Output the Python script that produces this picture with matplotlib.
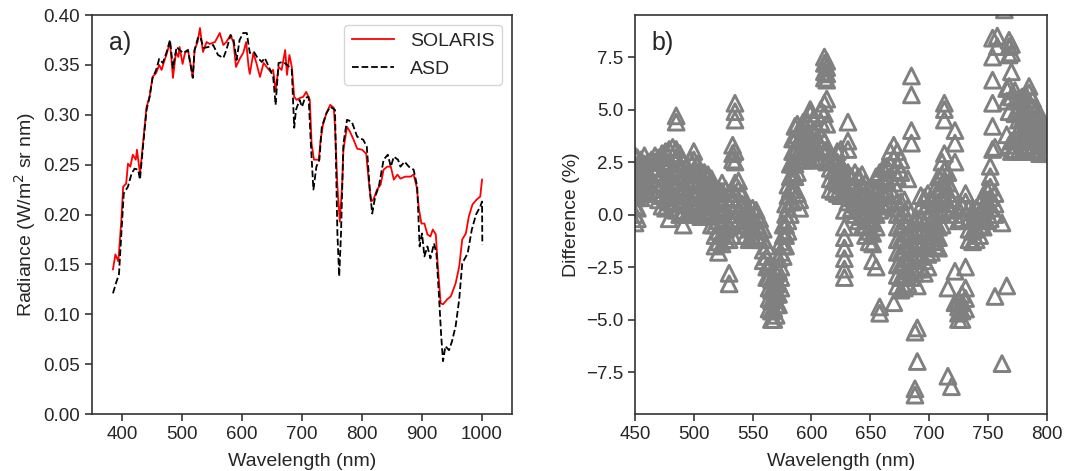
import matplotlib
matplotlib.use("Agg")
import matplotlib.pyplot as plt

plt.rcParams["font.family"] = ["Liberation Sans", "DejaVu Sans"]
plt.rcParams["text.color"] = "0.15"
plt.rcParams["axes.labelcolor"] = "0.15"
plt.rcParams["xtick.color"] = "0.15"
plt.rcParams["ytick.color"] = "0.15"
plt.rcParams["axes.edgecolor"] = "0.2"

# panel a) radiance spectra
solaris_wl = [385, 389, 394, 399, 402, 407, 410, 414, 418, 423, 425, 430, 435, 441, 446,
              451, 457, 462, 466, 470, 474, 480, 485, 490, 494, 496, 501, 505, 510, 518,
              521, 526, 530, 535, 541, 546, 555, 563, 569, 574, 581, 586, 590, 597, 602,
              607, 611, 613, 619, 624, 630, 636, 641, 648, 652, 656, 661, 666, 672, 675,
              679, 683, 687, 691, 697, 702, 707, 713, 716, 720, 728, 731, 735, 741, 747,
              753, 755, 759, 763, 767, 769, 775, 780, 786, 792, 800, 807, 811, 815, 819,
              825, 831, 836, 842, 848, 853, 859, 864, 872, 881, 886, 891, 895, 899, 904,
              909, 914, 918, 923, 926, 931, 935, 942, 948, 956, 962, 967, 973, 978, 984,
              991, 997, 1000]
solaris_rad = [0.145, 0.160, 0.153, 0.195, 0.228, 0.231, 0.251, 0.248, 0.260, 0.255, 0.265,
               0.241, 0.271, 0.308, 0.318, 0.338, 0.342, 0.350, 0.345, 0.353, 0.360, 0.373,
               0.337, 0.363, 0.358, 0.368, 0.351, 0.362, 0.365, 0.338, 0.365, 0.373, 0.387,
               0.363, 0.373, 0.371, 0.373, 0.382, 0.370, 0.373, 0.380, 0.372, 0.348, 0.357,
               0.362, 0.373, 0.348, 0.341, 0.362, 0.352, 0.338, 0.352, 0.348, 0.343, 0.345,
               0.324, 0.348, 0.345, 0.365, 0.340, 0.360, 0.348, 0.318, 0.315, 0.317, 0.318,
               0.323, 0.315, 0.271, 0.255, 0.255, 0.275, 0.290, 0.302, 0.310, 0.307, 0.288,
               0.228, 0.193, 0.231, 0.265, 0.288, 0.283, 0.275, 0.266, 0.265, 0.261, 0.235,
               0.213, 0.215, 0.225, 0.230, 0.245, 0.248, 0.248, 0.235, 0.240, 0.236, 0.238,
               0.238, 0.240, 0.228, 0.205, 0.191, 0.191, 0.180, 0.178, 0.185, 0.180, 0.151,
               0.111, 0.110, 0.115, 0.118, 0.131, 0.148, 0.175, 0.181, 0.198, 0.210, 0.215,
               0.218, 0.235]

asd_wl = [385, 391, 395, 399, 403, 410, 416, 421, 427, 430, 435, 441, 446, 451, 457,
          462, 468, 474, 480, 485, 491, 496, 502, 510, 518, 521, 527, 531, 536, 544,
          552, 560, 569, 574, 581, 586, 591, 596, 602, 608, 613, 620, 625, 633, 638,
          647, 652, 656, 661, 669, 679, 683, 687, 690, 696, 700, 705, 711, 715, 719,
          724, 729, 733, 741, 747, 755, 759, 762, 765, 769, 775, 783, 792, 802, 808,
          813, 817, 822, 828, 836, 843, 848, 853, 860, 864, 871, 878, 886, 892, 896,
          900, 904, 909, 914, 920, 924, 928, 932, 935, 939, 945, 950, 956, 962, 967,
          976, 983, 990, 997, 1000, 1000.5]
asd_rad = [0.121, 0.133, 0.140, 0.181, 0.221, 0.228, 0.241, 0.246, 0.245, 0.235, 0.268,
           0.305, 0.318, 0.337, 0.345, 0.356, 0.352, 0.362, 0.375, 0.347, 0.368, 0.365,
           0.362, 0.365, 0.337, 0.365, 0.378, 0.377, 0.367, 0.368, 0.370, 0.360, 0.357,
           0.365, 0.380, 0.375, 0.355, 0.375, 0.382, 0.382, 0.362, 0.363, 0.358, 0.353,
           0.357, 0.345, 0.338, 0.310, 0.352, 0.353, 0.348, 0.345, 0.287, 0.305, 0.315,
           0.308, 0.317, 0.318, 0.268, 0.225, 0.248, 0.255, 0.288, 0.302, 0.308, 0.305,
           0.181, 0.138, 0.181, 0.271, 0.295, 0.293, 0.278, 0.275, 0.268, 0.225, 0.201,
           0.218, 0.228, 0.255, 0.260, 0.248, 0.258, 0.255, 0.248, 0.253, 0.248, 0.245,
           0.228, 0.168, 0.181, 0.158, 0.168, 0.156, 0.171, 0.161, 0.121, 0.078, 0.053,
           0.068, 0.064, 0.073, 0.088, 0.115, 0.151, 0.161, 0.185, 0.200, 0.208, 0.213,
           0.170]

# panel b) percent difference, several values per wavelength
diff_wl = [450, 452, 455, 458, 461, 464, 467, 470, 473, 476, 479, 482, 485, 488, 491,
           494, 497, 500, 503, 506, 509, 512, 515, 518, 521, 524, 527, 530, 533, 535,
           538, 541, 544, 547, 550, 553, 556, 559, 562, 564, 566, 568, 570, 572, 574,
           576, 578, 580, 582, 584, 586, 588, 590, 593, 596, 599, 602, 605, 608, 611,
           613, 616, 619, 622, 625, 628, 631, 634, 637, 640, 643, 646, 649, 652, 655,
           658, 661, 664, 667, 670, 673, 676, 679, 682, 685, 688, 690, 693, 696, 699,
           702, 705, 708, 711, 713, 716, 719, 722, 725, 728, 731, 734, 737, 740, 743,
           746, 749, 752, 754, 756, 758, 762, 764, 766, 768, 770, 773, 776, 779, 782,
           785, 788, 791, 794, 797, 800]
diff_pct = [
    [-0.4, 0.0, 0.4, 0.9, 1.4, 1.9, 2.4, 2.8],
    [-0.2, 0.3, 0.8, 1.3, 1.8, 2.3, 2.7],
    [0.8, 1.2, 1.7, 2.2, 2.6],
    [1.0, 1.4, 1.9, 2.4, 2.8],
    [1.1, 1.5, 2.0, 2.5],
    [1.2, 1.7, 2.2, 2.6],
    [1.0, 1.5, 2.0, 2.5, 2.8],
    [0.7, 1.2, 1.7, 2.2, 2.7],
    [0.4, 0.9, 1.4, 1.9, 2.5, 2.9],
    [0.3, 0.8, 1.3, 1.8, 2.4, 3.0],
    [-0.2, 0.6, 1.2, 1.8, 2.4, 3.1],
    [0.5, 1.0, 1.6, 2.2, 2.8, 3.2],
    [0.2, 0.9, 1.5, 2.1, 2.7, 3.1, 4.4, 4.7],
    [0.0, 0.6, 1.2, 1.8, 2.4, 2.9],
    [-0.5, 0.1, 0.7, 1.3, 1.9, 2.5],
    [0.0, 0.5, 1.1, 1.7, 2.3],
    [0.2, 0.8, 1.4, 2.0, 2.6],
    [0.3, 0.9, 1.5, 2.1, 2.6, 3.0],
    [0.0, 0.5, 1.0, 1.5, 2.0, 2.4],
    [-0.1, 0.4, 0.9, 1.4, 1.9],
    [0.1, 0.6, 1.1, 1.6, 2.0],
    [0.2, 0.7, 1.2, 1.7, 1.9],
    [-0.5, 0.0, 0.5, 1.0, 1.5, 1.7],
    [-1.5, -1.0, -0.5, 0.0, 0.5, 1.0, 1.3],
    [-1.8, -1.3, -0.8, -0.3, 0.2, 0.7, 1.2],
    [-1.4, -0.9, -0.4, 0.1, 0.6, 1.1, 1.5],
    [-1.2, -0.7, -0.2, 0.3, 0.8, 1.2],
    [-3.3, -2.8, -1.2, -0.6, 0.0, 0.5, 1.0],
    [-1.0, -0.4, 0.2, 0.8, 2.6, 2.9, 3.3],
    [-0.2, 0.4, 1.0, 1.5, 2.5, 3.0, 4.5, 4.9, 5.3],
    [-0.3, 0.2, 0.7, 1.2, 1.6],
    [-0.5, 0.0, 0.5, 1.0],
    [-1.0, -0.5, 0.0, 0.4],
    [-1.2, -0.7, -0.2, 0.2],
    [-1.1, -0.6, -0.1, 0.3],
    [-1.0, -0.5, 0.0, 0.2],
    [-1.2, -0.7, -0.2],
    [-2.2, -1.7, -1.2, -0.7],
    [-3.0, -2.5, -2.0, -1.5],
    [-4.5, -4.0, -3.5, -3.0, -2.5],
    [-5.0, -4.6, -4.1, -3.6, -3.1],
    [-5.0, -4.5, -4.0, -3.5, -3.0],
    [-4.8, -4.3, -3.8, -3.3, -2.8],
    [-4.3, -3.8, -3.3, -2.7, -2.1],
    [-3.5, -3.0, -2.5, -1.8, -1.3],
    [-2.0, -1.5, -1.0, -0.5],
    [-1.5, -1.0, -0.5, 0.0, 0.5],
    [-0.8, -0.3, 0.3, 0.9, 1.4],
    [0.0, 0.6, 1.2, 1.8, 2.4],
    [0.6, 1.2, 1.8, 2.4, 3.0, 3.6],
    [1.2, 1.8, 2.4, 3.0, 3.6, 4.2],
    [1.0, 2.0, 2.6, 3.2, 3.8, 4.3],
    [0.3, 0.7, 2.6, 3.1, 3.6, 4.1],
    [2.6, 3.0, 3.5, 4.0, 4.4],
    [2.6, 3.0, 3.4, 3.9, 4.5],
    [2.6, 3.1, 3.6, 4.2, 4.8, 5.0],
    [2.6, 3.0, 3.5, 4.0, 4.6],
    [2.6, 3.1, 3.6, 4.1],
    [2.7, 3.2, 3.8, 4.4, 5.0],
    [3.0, 3.5, 4.8, 5.3, 6.5, 6.8, 7.2, 7.5],
    [2.5, 3.0, 4.3, 5.5, 6.4, 6.7, 7.0, 7.3],
    [1.2, 1.7, 2.2, 2.8],
    [1.1, 1.6, 2.1, 2.6],
    [1.0, 1.5, 2.0, 2.5, 3.0],
    [0.9, 1.4, 1.9, 2.4, 3.1],
    [-3.0, -2.6, -2.1, -1.6, -1.1, -0.6, 0.2, 0.9, 1.5],
    [0.6, 1.1, 1.6, 2.0, 3.1, 3.5, 4.4],
    [0.3, 0.8, 1.3, 1.8],
    [0.0, 0.5, 1.0, 1.5, 2.0],
    [-0.3, 0.2, 0.7, 1.2, 1.8],
    [-0.6, -0.1, 0.4, 0.9, 1.4, 1.9],
    [-1.0, -0.5, 0.0, 0.5, 1.0, 1.5],
    [-1.3, -0.8, -0.3, 0.2, 0.7, 1.2],
    [-2.2, -1.4, -0.9, -0.4, 0.1, 0.6, 1.2],
    [-2.5, -0.6, 0.0, 0.6, 1.2, 1.8],
    [-4.7, -4.4, 0.2, 0.8, 1.4, 2.0],
    [0.4, 1.0, 1.6, 2.2],
    [0.5, 1.1, 1.7, 2.3],
    [0.6, 1.2, 1.8, 2.4, 3.0],
    [-4.2, 0.3, 0.9, 1.5, 2.1, 2.7, 3.3],
    [-3.4, -2.9, -2.4, -1.8, -1.2, -0.6, 0.0, 0.6, 1.8, 2.4, 3.0],
    [-3.6, -3.0, -2.4, -1.8, -1.2, -0.6, 0.0, 0.6, 2.0, 2.6],
    [-3.5, -2.9, -2.3, -1.7, -1.1, -0.5, 0.1, 0.7],
    [-3.3, -2.7, -2.1, -1.5, -0.9, -0.3, 0.3, 1.7],
    [-3.0, -2.5, -2.0, -1.4, -0.8, 3.4, 4.0, 5.7, 6.6],
    [-8.6, -8.3, -5.6, -2.8, -2.2, -1.6, -1.0, -0.4],
    [-7.0, -5.4, -3.4, -2.6, -2.0, -1.4, -0.8, -0.2],
    [-2.6, -2.0, -1.4, -0.8, -0.2, 0.4, 0.9],
    [-2.8, -2.2, -1.6, -1.0, -0.4, 0.2, 0.8],
    [-2.5, -1.9, -1.3, -0.7, -0.1, 0.5, 1.0],
    [-1.8, -1.3, -0.8, -0.3, 0.2, 0.7],
    [-1.5, -1.0, -0.5, 0.0, 0.5, 1.2],
    [-1.6, -1.1, -0.6, 0.0, 0.6, 1.2, 1.8],
    [-0.5, 0.1, 0.7, 1.3, 1.9, 2.5],
    [0.3, 0.9, 1.5, 2.1, 2.9, 4.5, 5.0, 5.3],
    [-7.7, -3.5, 0.5, 1.0, 1.5, 2.0],
    [-8.2, 0.2, 0.7, 1.2],
    [-4.2, -2.7, 0.0, 2.5, 3.4, 4.0],
    [-5.0, -4.7, -4.4, -4.1, -0.3, 0.3],
    [-5.0, -4.6, -4.2, -3.8, -0.2, 0.4],
    [-4.5, -4.0, -3.5, -2.5, 0.6, 1.0],
    [-1.2, -0.7, -0.2, 0.3],
    [-1.3, -0.8, -0.3, 0.2],
    [-1.2, -0.7, -0.2, 0.3],
    [-1.0, -0.5, 0.0, 0.5],
    [-0.6, -0.1, 0.4, 0.9],
    [-0.3, 0.2, 0.7, 1.2],
    [-0.2, 0.3, 0.8, 1.3, 1.8, 2.3],
    [3.1, 4.2, 5.3, 6.4, 7.5, 8.4],
    [-3.9, 0.0, 0.5, 1.0, 3.2],
    [8.0, 8.5],
    [-7.1, -0.4],
    [9.75],
    [-3.4, 3.8, 5.4, 6.0],
    [3.3, 4.9, 6.1, 7.6, 8.0, 8.3],
    [3.0, 3.5, 5.6, 6.8, 7.7, 8.1],
    [3.1, 3.6, 4.8, 5.9],
    [3.0, 3.5, 4.0, 4.5, 5.0, 5.5],
    [3.0, 3.5, 4.0, 4.5, 5.0, 5.6],
    [3.2, 3.7, 4.2, 4.7, 5.2, 5.7],
    [3.3, 3.8, 4.3, 4.8, 5.3, 5.8, 6.1],
    [3.1, 3.6, 4.1, 4.6, 5.1, 5.5],
    [3.0, 3.5, 4.0, 4.5, 5.0],
    [2.9, 3.4, 3.9, 4.4, 4.8],
    [2.9, 3.4, 3.9, 4.3],
    [2.9, 3.3, 3.8, 4.2],
]

xs = []
ys = []
for wl, vals in zip(diff_wl, diff_pct):
    for v in vals:
        xs.append(wl)
        ys.append(v)

fig = plt.figure(figsize=(10.73, 4.71), dpi=100)
ax1 = fig.add_axes([0.0857, 0.121, 0.3915, 0.847])
ax2 = fig.add_axes([0.5918, 0.121, 0.3837, 0.847])

ax1.plot(solaris_wl, solaris_rad, color="red", lw=1.3, label="SOLARIS")
ax1.plot(asd_wl, asd_rad, color="black", lw=1.3, ls="--", label="ASD")
ax1.set_xlim(350, 1050)
ax1.set_ylim(0, 0.40)
ax1.set_xticks([400, 500, 600, 700, 800, 900, 1000])
ax1.set_yticks([0.0, 0.05, 0.10, 0.15, 0.20, 0.25, 0.30, 0.35, 0.40])
ax1.set_xlabel("Wavelength (nm)", fontsize=14, labelpad=7)
ax1.set_ylabel("Radiance (W/m$^2$ sr nm)", fontsize=14)
ax1.text(0.04, 0.93, "a)", transform=ax1.transAxes, fontsize=18, va="center")
leg = ax1.legend(loc="upper right", fontsize=14, handlelength=2.2, fancybox=True)
leg.get_frame().set_edgecolor("0.8")

ax2.scatter(xs, ys, marker="^", s=130, facecolors="none", edgecolors="gray", linewidths=2.1)
ax2.set_xlim(450, 800)
ax2.set_ylim(-9.5, 9.5)
ax2.set_xticks([450, 500, 550, 600, 650, 700, 750, 800])
ax2.set_yticks([-7.5, -5.0, -2.5, 0.0, 2.5, 5.0, 7.5])
ax2.set_xlabel("Wavelength (nm)", fontsize=14, labelpad=7)
ax2.set_ylabel("Difference (%)", fontsize=14)
ax2.text(0.04, 0.93, "b)", transform=ax2.transAxes, fontsize=18, va="center")

for ax in (ax1, ax2):
    ax.tick_params(labelsize=13.5, direction="out", length=5, width=1.1)
    for s in ax.spines.values():
        s.set_linewidth(1.2)

fig.savefig("out.png", dpi=100)
